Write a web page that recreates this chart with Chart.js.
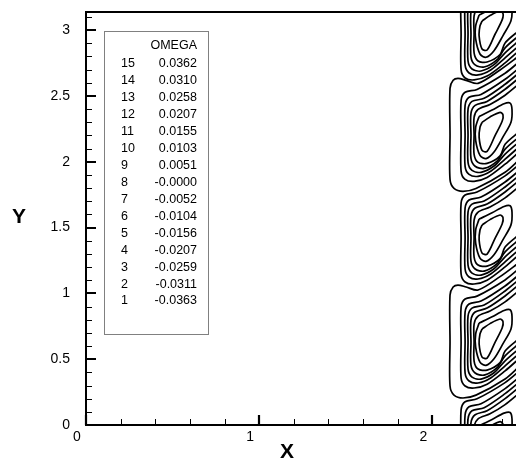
<!DOCTYPE html>
<html><head><meta charset="utf-8">
<script src="https://cdn.jsdelivr.net/npm/chart.js@4.4.0/dist/chart.umd.min.js"></script>
<style>html,body{margin:0;padding:0;background:#fff}canvas{display:block}</style>
</head><body>
<canvas id="c" width="516" height="461"></canvas>
<script>
// ---- legend data ----
const levelIds = [15,14,13,12,11,10,9,8,7,6,5,4,3,2,1];
const levelValues = ["0.0362","0.0310","0.0258","0.0207","0.0155","0.0103","0.0051","-0.0000","-0.0052","-0.0104","-0.0156","-0.0207","-0.0259","-0.0311","-0.0363"];
const legendTitle = "OMEGA";
// ---- axes ----
const xMajorTicks = [0,1,2];
const xTickLabels = ["0","1","2"];
const xMinorTicks = [0.2,0.4,0.6,0.8,1.2,1.4,1.6,1.8,2.2,2.4];
const yMajorTicks = [0,0.5,1,1.5,2,2.5,3];
const yTickLabels = ["0","0.5","1","1.5","2","2.5","3"];
const yMinorTicks = [0.1,0.2,0.3,0.4,0.6,0.7,0.8,0.9,1.1,1.2,1.3,1.4,1.6,1.7,1.8,1.9,2.1,2.2,2.3,2.4,2.6,2.7,2.8,2.9,3.1];
const xMax = 2.483, yMax = 3.137;

// ---- contour x coordinates per nested level (1 = innermost) ----
const cx1 = [2.287,2.333,2.391,2.408,2.403,2.362,2.316,2.287,2.270,2.275,2.287];
const cx2 = [2.270,2.345,2.414,2.449,2.460,2.454,2.408,2.356,2.310,2.275,2.250,2.250,2.270];
const cx3 = [2.506,2.420,2.333,2.264,2.241,2.241,2.241,2.264,2.316,2.391,2.420,2.506];
const cx4 = [2.506,2.420,2.316,2.247,2.223,2.223,2.223,2.247,2.299,2.374,2.420,2.506];
const cx5 = [2.506,2.420,2.299,2.229,2.206,2.206,2.206,2.229,2.281,2.356,2.420,2.506];
const cx6 = [2.506,2.420,2.281,2.212,2.189,2.189,2.189,2.212,2.264,2.339,2.420,2.506];
const cx7 = [2.506,2.420,2.258,2.189,2.166,2.166,2.166,2.189,2.241,2.316,2.420,2.506];
const cx8 = [2.506,2.391,2.264,2.195,2.148,2.120,2.102,2.102,2.102,2.125,2.177,2.252,2.420,2.506];

// ---- contour y coordinates, island by island (bottom to top) ----
const yU0_1 = [-0.051,-0.010,0.025,0.005,-0.043,-0.152,-0.272,-0.264,-0.165,-0.089,-0.051];
const yU0_2 = [-0.006,0.042,0.090,0.095,0.045,-0.050,-0.162,-0.277,-0.327,-0.302,-0.188,-0.089,-0.006];
const yU0_3 = [0.247,0.155,0.085,0.047,-0.013,-0.150,-0.294,-0.355,-0.363,-0.306,-0.218,-0.118];
const yU0_4 = [0.292,0.200,0.108,0.078,0.017,-0.150,-0.325,-0.385,-0.401,-0.345,-0.255,-0.156];
const yU0_5 = [0.330,0.238,0.131,0.108,0.047,-0.150,-0.355,-0.416,-0.431,-0.383,-0.293,-0.194];
const yU0_6 = [0.368,0.276,0.161,0.139,0.078,-0.150,-0.385,-0.446,-0.461,-0.421,-0.331,-0.232];
const yU0_7 = [0.414,0.322,0.199,0.177,0.116,-0.150,-0.423,-0.484,-0.499,-0.470,-0.369,-0.270];

const yL1_1 = [0.729,0.770,0.805,0.785,0.737,0.628,0.508,0.516,0.615,0.691,0.729];
const yL1_2 = [0.774,0.822,0.870,0.875,0.825,0.730,0.618,0.503,0.453,0.478,0.592,0.691,0.774];
const yL1_3 = [1.027,0.935,0.865,0.827,0.767,0.630,0.486,0.425,0.417,0.474,0.562,0.662];
const yL1_4 = [1.072,0.980,0.888,0.858,0.797,0.630,0.455,0.395,0.379,0.435,0.525,0.624];
const yL1_5 = [1.110,1.018,0.911,0.888,0.827,0.630,0.425,0.364,0.349,0.397,0.487,0.586];
const yL1_6 = [1.148,1.056,0.941,0.919,0.858,0.630,0.395,0.334,0.319,0.359,0.449,0.548];
const yL1_7 = [1.194,1.102,0.979,0.957,0.896,0.630,0.357,0.296,0.281,0.310,0.411,0.510];
const yL1_8 = [1.239,1.127,1.025,1.048,1.063,1.048,0.987,0.630,0.296,0.227,0.205,0.227,0.350,0.450];

const yU1_1 = [1.519,1.560,1.595,1.575,1.527,1.418,1.298,1.306,1.405,1.481,1.519];
const yU1_2 = [1.564,1.612,1.660,1.665,1.615,1.520,1.408,1.293,1.243,1.268,1.382,1.481,1.564];
const yU1_3 = [1.817,1.725,1.655,1.617,1.557,1.420,1.276,1.215,1.207,1.264,1.352,1.452];
const yU1_4 = [1.862,1.770,1.678,1.648,1.587,1.420,1.245,1.185,1.169,1.225,1.315,1.414];
const yU1_5 = [1.900,1.808,1.701,1.678,1.617,1.420,1.215,1.154,1.139,1.187,1.277,1.376];
const yU1_6 = [1.938,1.846,1.731,1.709,1.648,1.420,1.185,1.124,1.109,1.149,1.239,1.338];
const yU1_7 = [1.984,1.892,1.769,1.747,1.686,1.420,1.147,1.086,1.071,1.100,1.201,1.300];

const yL2_1 = [2.299,2.340,2.375,2.355,2.307,2.198,2.078,2.086,2.185,2.261,2.299];
const yL2_2 = [2.344,2.392,2.440,2.445,2.395,2.300,2.188,2.073,2.023,2.048,2.162,2.261,2.344];
const yL2_3 = [2.597,2.505,2.435,2.397,2.337,2.200,2.056,1.995,1.987,2.044,2.132,2.232];
const yL2_4 = [2.642,2.550,2.458,2.428,2.367,2.200,2.025,1.965,1.949,2.005,2.095,2.194];
const yL2_5 = [2.680,2.588,2.481,2.458,2.397,2.200,1.995,1.934,1.919,1.967,2.057,2.156];
const yL2_6 = [2.718,2.626,2.511,2.489,2.428,2.200,1.965,1.904,1.889,1.929,2.019,2.118];
const yL2_7 = [2.764,2.672,2.549,2.527,2.466,2.200,1.927,1.866,1.851,1.880,1.981,2.080];
const yL2_8 = [2.809,2.697,2.595,2.618,2.633,2.618,2.557,2.200,1.866,1.797,1.775,1.797,1.920,2.020];

const yU2_1 = [3.069,3.110,3.145,3.125,3.077,2.968,2.848,2.856,2.955,3.031,3.069];
const yU2_2 = [3.114,3.162,3.210,3.215,3.165,3.070,2.958,2.843,2.793,2.818,2.932,3.031,3.114];
const yU2_3 = [3.367,3.275,3.205,3.167,3.107,2.970,2.826,2.765,2.757,2.814,2.902,3.002];
const yU2_4 = [3.412,3.320,3.228,3.198,3.137,2.970,2.795,2.735,2.719,2.775,2.865,2.964];
const yU2_5 = [3.450,3.358,3.251,3.228,3.167,2.970,2.765,2.704,2.689,2.737,2.827,2.926];
const yU2_6 = [3.488,3.396,3.281,3.259,3.198,2.970,2.735,2.674,2.659,2.699,2.789,2.888];
const yU2_7 = [3.534,3.442,3.319,3.297,3.236,2.970,2.697,2.636,2.621,2.650,2.751,2.850];

const contourLines = [
  [cx1,yU0_1],[cx2,yU0_2],[cx3,yU0_3],[cx4,yU0_4],[cx5,yU0_5],[cx6,yU0_6],[cx7,yU0_7],
  [cx1,yL1_1],[cx2,yL1_2],[cx3,yL1_3],[cx4,yL1_4],[cx5,yL1_5],[cx6,yL1_6],[cx7,yL1_7],[cx8,yL1_8],
  [cx1,yU1_1],[cx2,yU1_2],[cx3,yU1_3],[cx4,yU1_4],[cx5,yU1_5],[cx6,yU1_6],[cx7,yU1_7],
  [cx1,yL2_1],[cx2,yL2_2],[cx3,yL2_3],[cx4,yL2_4],[cx5,yL2_5],[cx6,yL2_6],[cx7,yL2_7],[cx8,yL2_8],
  [cx1,yU2_1],[cx2,yU2_2],[cx3,yU2_3],[cx4,yU2_4],[cx5,yU2_5],[cx6,yU2_6],[cx7,yU2_7]
];

const datasets = contourLines.map(([xs, ys]) => ({
  data: xs.map((x, i) => ({x: x, y: ys[i]})),
  showLine: true, borderColor: '#000', borderWidth: 1.7,
  pointRadius: 0, tension: 0.3, fill: false
}));

const FONT = 'Liberation Sans, Arial, Helvetica, sans-serif';

const framePlugin = {
  id: 'frame',
  beforeDraw(chart) {
    const c = chart.ctx;
    c.save(); c.fillStyle = '#fff'; c.fillRect(0, 0, chart.width, chart.height); c.restore();
  },
  afterDatasetsDraw(chart) {
    const c = chart.ctx, a = chart.chartArea, xs = chart.scales.x, ys = chart.scales.y;
    c.save();
    c.strokeStyle = '#000';
    c.lineWidth = 2;
    c.beginPath();
    c.moveTo(a.right + 2, a.top); c.lineTo(a.left, a.top); c.lineTo(a.left, a.bottom); c.lineTo(a.right + 2, a.bottom);
    c.stroke();
    c.lineWidth = 2.2;
    c.beginPath();
    yMajorTicks.forEach(v => { const p = Math.round(ys.getPixelForValue(v)); c.moveTo(a.left, p); c.lineTo(a.left + 10, p); });
    xMajorTicks.forEach(v => { const p = Math.round(xs.getPixelForValue(v)); c.moveTo(p, a.bottom); c.lineTo(p, a.bottom - 10); });
    c.stroke();
    c.lineWidth = 1;
    c.beginPath();
    yMinorTicks.forEach(v => { const p = Math.round(ys.getPixelForValue(v)) + 0.5; c.moveTo(a.left, p); c.lineTo(a.left + 6, p); });
    xMinorTicks.forEach(v => { const p = Math.round(xs.getPixelForValue(v)) + 0.5; c.moveTo(p, a.bottom); c.lineTo(p, a.bottom - 6); });
    c.stroke();
    c.fillStyle = '#000';
    c.font = 'bold 21px ' + FONT;
    c.textAlign = 'center'; c.textBaseline = 'middle';
    c.fillText('X', 287, 452);
    c.fillText('Y', 19, 217);
    c.strokeStyle = '#808080'; c.lineWidth = 1;
    c.strokeRect(104.5, 31.5, 104, 303);
    c.font = '12.5px ' + FONT;
    c.fillStyle = '#000';
    c.textBaseline = 'middle';
    c.textAlign = 'right';
    c.fillText(legendTitle, 197, 46);
    levelIds.forEach((id, i) => {
      const yy = 64 + i * 16.93;
      c.textAlign = 'left'; c.fillText(String(id), 121, yy);
      c.textAlign = 'right'; c.fillText(levelValues[i], 197, yy);
    });
    c.restore();
  }
};

new Chart(document.getElementById('c').getContext('2d'), {
  type: 'scatter',
  data: { datasets },
  options: {
    responsive: false, animation: false, devicePixelRatio: 1,
    layout: { padding: { top: 12, left: 0, right: 0, bottom: 0 } },
    plugins: { legend: { display: false }, tooltip: { enabled: false } },
    scales: {
      x: {
        type: 'linear', min: 0, max: xMax,
        afterBuildTicks: s => { s.ticks = xMajorTicks.map(v => ({ value: v })); },
        afterFit: s => { s.height = 36; s.paddingLeft = 0; s.paddingRight = 0; },
        grid: { display: false, drawTicks: false }, border: { display: false },
        ticks: { font: { family: FONT, size: 14 }, color: '#000', padding: 4, labelOffset: -9, maxRotation: 0, autoSkip: false,
                 callback: (v) => xTickLabels[xMajorTicks.indexOf(v)] }
      },
      y: {
        type: 'linear', min: 0, max: yMax,
        afterBuildTicks: s => { s.ticks = yMajorTicks.map(v => ({ value: v })); },
        afterFit: s => { s.width = 86; s.paddingTop = 0; s.paddingBottom = 0; },
        grid: { display: false, drawTicks: false }, border: { display: false },
        ticks: { font: { family: FONT, size: 14 }, color: '#000', padding: 16, autoSkip: false,
                 callback: (v) => yTickLabels[yMajorTicks.indexOf(v)] }
      }
    }
  },
  plugins: [framePlugin]
});
</script>
</body></html>
